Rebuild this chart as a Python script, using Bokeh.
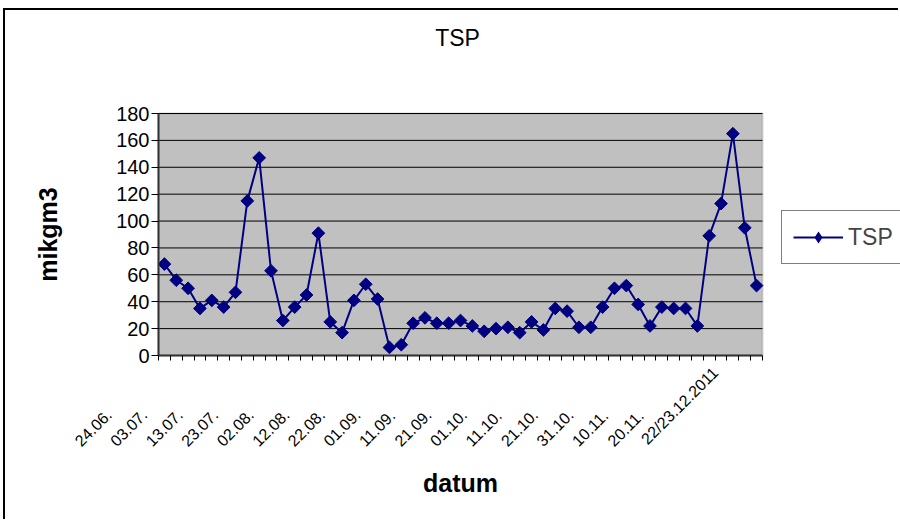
import numpy as np
from math import pi
from bokeh.plotting import figure
from bokeh.models import (FixedTicker, Legend, LegendItem, ColumnDataSource,
                          Range1d, LabelSet, Label, BoxAnnotation)
from bokeh.core.properties import value
from bokeh.embed import file_html
from bokeh.resources import INLINE

# ---- data ----
tsp = [68, 56, 50, 35, 41, 36, 47, 115, 147, 63,
       26, 36, 45, 91, 25, 17, 41, 53, 42, 6,
       8, 24, 28, 24, 24, 26, 22, 18, 20, 21,
       17, 25, 19, 35, 33, 21, 21, 36, 50, 52,
       38, 22, 36, 35, 35, 22, 89, 113, 165, 95, 52]
date_labels = ["24.06.", "03.07.", "13.07.", "23.07.", "02.08.", "12.08.",
               "22.08.", "01.09.", "11.09.", "21.09.", "01.10.", "11.10.",
               "21.10.", "31.10.", "10.11.", "20.11.", "22/23.12.2011"]
label_step = 3
y_ticks = list(range(0, 181, 20))
y_tick_labels = [str(t) for t in y_ticks]
y_max = 180

FONT = "Liberation Sans"
NAVY = "#000080"

# ---- layout (pixels) ----
OX, OY = 5, 10             # canvas origin on the page
W, H = 895, 511            # canvas size
ML, MB = 20, 12            # left / bottom axis panels
PLOT_LEFT, PLOT_TOP = 158 - OX, 113 - OY   # grey plot area corner (canvas px)
PLOT_W, PLOT_H = 604, 242                  # grey plot area size
frame_w = W - ML
frame_h = H - MB

n = len(tsp)
xppu = PLOT_W / n
yppu = PLOT_H / y_max
x_start = -(PLOT_LEFT - ML) / xppu
x_end = x_start + frame_w / xppu
y_end = y_max + PLOT_TOP / yppu
y_start = -(frame_h - PLOT_TOP - PLOT_H) / yppu

xs = np.arange(n) + 0.5
src = ColumnDataSource(dict(x=xs, y=tsp))
lab_src = ColumnDataSource(dict(x=xs[::label_step][:len(date_labels)],
                                y=[0] * len(date_labels), text=date_labels))
ytl_src = ColumnDataSource(dict(x=[0] * len(y_ticks), y=y_ticks,
                                text=y_tick_labels))
grid_src = ColumnDataSource(dict(x0=[0] * (len(y_ticks) - 1),
                                 x1=[n] * (len(y_ticks) - 1),
                                 y=y_ticks[1:]))

p = figure(width=W, height=H, output_backend="svg", toolbar_location=None,
           title=None, x_range=Range1d(x_start, x_end),
           y_range=Range1d(y_start, y_end),
           min_border_left=ML, min_border_right=0,
           min_border_top=0, min_border_bottom=MB)
p.styles = {"margin-left": f"{OX}px", "margin-top": f"{OY}px",
            "box-shadow": "-2px -2px 0 0 black"}

p.background_fill_color = "white"
p.border_fill_color = "white"
p.outline_line_color = None
p.xgrid.visible = False
p.ygrid.visible = False

# grey plot area
p.add_layout(BoxAnnotation(left=0, right=n, bottom=0, top=y_max,
                           fill_color="#C0C0C0", fill_alpha=1,
                           line_color="#808080", line_width=2,
                           level="underlay"))

# horizontal grid lines across the plot area
p.segment(x0="x0", x1="x1", y0="y", y1="y", source=grid_src,
          line_color="black", line_width=1)

# y axis at x = 0 (line and ticks)
ya = p.yaxis[0]
ya.fixed_location = 0
ya.ticker = FixedTicker(ticks=y_ticks)
ya.bounds = (0, y_max)
ya.major_label_overrides = {t: "" for t in y_ticks}
ya.major_tick_out = 7
ya.major_tick_in = 0
ya.minor_tick_out = 0
ya.minor_tick_in = 0
ya.axis_line_color = "#333333"
ya.axis_line_width = 2
ya.major_tick_line_color = "black"

# y tick labels
p.add_layout(LabelSet(x="x", y="y", text="text", source=ytl_src,
                      x_offset=-9, text_align="right", text_baseline="middle",
                      text_font=value(FONT), text_font_size="20px",
                      text_color="black"))

# x axis at y = 0, ticks on category boundaries
xa = p.xaxis[0]
xa.fixed_location = 0
xa.bounds = (0, n)
xa.ticker = FixedTicker(ticks=[], minor_ticks=list(range(0, n + 1)))
xa.major_tick_out = 0
xa.major_tick_in = 0
xa.minor_tick_out = 5
xa.minor_tick_in = 0
xa.minor_tick_line_color = "black"
xa.axis_line_color = "#333333"
xa.axis_line_width = 2

# series
ln = p.line("x", "y", source=src, line_color=NAVY, line_width=2)
sc = p.scatter("x", "y", source=src, marker="square", angle=pi / 4, size=9,
               fill_color=NAVY, line_color=NAVY)
# legend key marker: a diamond of size 0 in the plot (legend sizes it itself)
key = p.scatter("x", "y", source=src, marker="diamond", size=0,
                fill_color=NAVY, line_color=None)

# category labels (every 3rd category)
p.add_layout(LabelSet(x="x", y="y", text="text", source=lab_src, angle=pi / 4,
                      x_offset=-83, y_offset=-92, text_align="left",
                      text_baseline="bottom", text_font=value(FONT),
                      text_font_size="16px", text_color="black"))

# titles
p.add_layout(Label(x=n / 2, y=y_max, x_offset=-3, y_offset=76, text="TSP",
                   text_align="center", text_baseline="middle",
                   text_font=FONT, text_font_size="23px",
                   text_color="black"))
p.add_layout(Label(x=n / 2, y=0, y_offset=-127, text="datum",
                   text_align="center", text_baseline="middle",
                   text_font=FONT, text_font_size="25px",
                   text_font_style="bold", text_color="black"))
p.add_layout(Label(x=0, y=y_max / 2, x_offset=-111, angle=pi / 2,
                   text="mikgm3", text_align="center", text_baseline="middle",
                   text_font=FONT, text_font_size="25px",
                   text_font_style="bold", text_color="black"))

legend = Legend(items=[LegendItem(label="TSP", renderers=[ln, key])],
                location=(781 - OX - ML, frame_h - (264 - OY)))
legend.border_line_color = "black"
legend.border_line_width = 1
legend.background_fill_color = "white"
legend.background_fill_alpha = 1
legend.label_text_font = FONT
legend.label_text_font_size = "23px"
legend.glyph_width = 50
legend.glyph_height = 30
legend.padding = 11
legend.label_standoff = 5
legend.margin = 0
p.add_layout(legend)

open("out.html", "w").write(file_html(p, INLINE))
